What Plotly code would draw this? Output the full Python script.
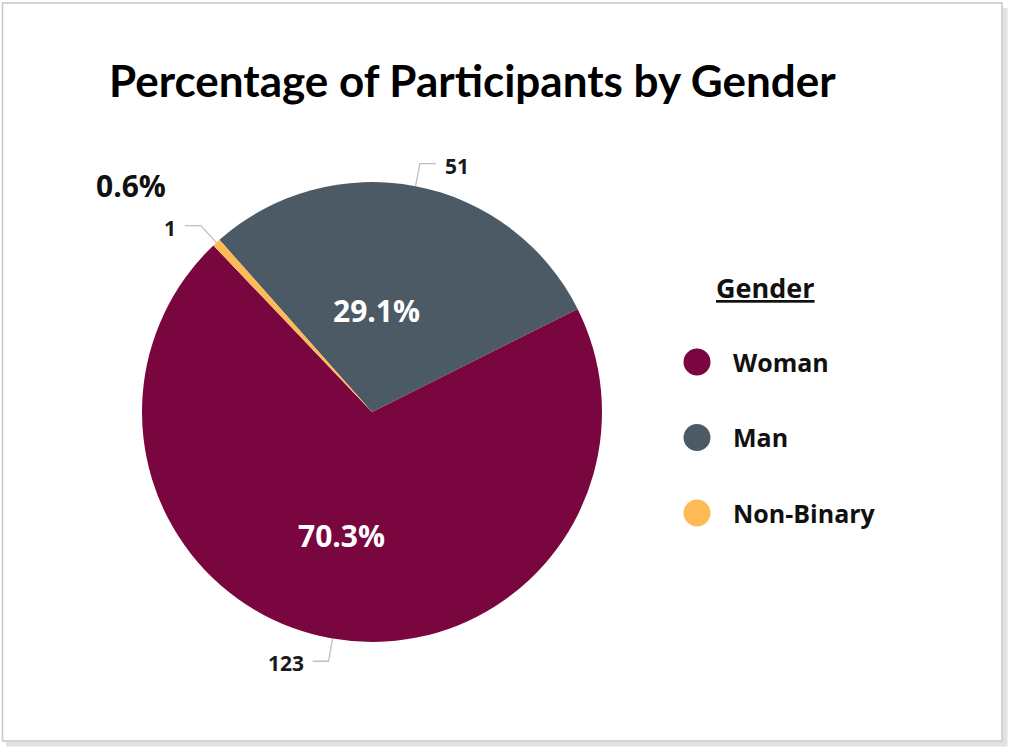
import math
import plotly.graph_objects as go

# ---- data ----
genders = ["Woman", "Man", "Non-Binary"]
counts = [123, 51, 1]
percent_labels = ["70.3%", "29.1%", "0.6%"]
colors = ["#7A063F", "#4C5A66", "#FDBA55"]
title_text = "Percentage of Participants by Gender"
legend_title = "Gender"

W, H = 1013, 751
CX, CY, R = 372, 412, 230          # pie centre / radius in pixels
START = 316.4                      # start angle of first slice (deg, clockwise from 12 o'clock)


def px(x):
    return x / W


def py(y):
    return 1 - y / H


total = sum(counts)
mids = []
acc = 0
for c in counts:
    a0 = START - 360 * acc / total
    acc += c
    a1 = START - 360 * acc / total
    mids.append((a0 + a1) / 2)


def polar(ang, r):
    a = math.radians(ang)
    return CX + r * math.sin(a), CY - r * math.cos(a)


# plotly (counterclockwise): first slice spans [rotation, rotation + its angle] clockwise
rotation = START - 360 * counts[0] / total

fig = go.Figure()
fig.add_trace(go.Pie(
    labels=genders, values=counts, sort=False, direction="counterclockwise",
    rotation=rotation, marker=dict(colors=colors, line=dict(width=0)),
    textinfo="none", hoverinfo="label+value+percent", showlegend=False,
    domain=dict(x=[px(CX - R), px(CX + R)], y=[py(CY + R), py(CY - R)]),
))

annotations = []
shapes = []


def ann(x, y, text, size, color, xanchor="center", family="Open Sans"):
    annotations.append(dict(x=px(x), y=py(y), xref="paper", yref="paper",
                            text=text, showarrow=False, xanchor=xanchor, yanchor="middle",
                            font=dict(family=family, size=size, color=color)))


# percentage labels: (radius, angular offset) per slice
pct_cfg = [(127, 3.8, "white"), (102, -8.2, "white"), (331, -4.2, "#111111")]
for i, (rr, dang, col) in enumerate(pct_cfg):
    x, y = polar(mids[i] + dang, rr)
    ann(x, y, f"<b>{percent_labels[i]}</b>", 30, col)

# count labels with leader lines
for i, c in enumerate(counts):
    ex, ey = polar(mids[i], R)
    kx, ky = polar(mids[i], R + 23)
    side = 1 if math.sin(math.radians(mids[i])) > 0 else -1
    hx = kx + side * 16
    shapes.append(dict(type="path", xref="paper", yref="paper",
                       path=f"M {px(ex)},{py(ey)} L {px(kx)},{py(ky)} L {px(hx)},{py(ky)}",
                       line=dict(color="#BFBFBF", width=1.3)))
    ann(hx + side * 7, ky + 2, f"<b>{c}</b>", 21, "#1A1A1A",
        xanchor="left" if side > 0 else "right")

# title
ann(472, 80, f"<b>{title_text}</b>", 44, "#000000", family="Lato")

# manual legend
ann(765, 287, f"<b><u>{legend_title}</u></b>", 27, "#111111")
for i, g in enumerate(genders):
    ly = 362 + i * 75.5
    shapes.append(dict(type="circle", xref="paper", yref="paper",
                       x0=px(697 - 13.5), x1=px(697 + 13.5),
                       y0=py(ly + 13.5), y1=py(ly - 13.5),
                       fillcolor=colors[i], line=dict(width=0)))
    ann(731, ly, f"<b>{g}</b>", 25, "#111111", xanchor="left")

# frame with soft shadow
shapes.append(dict(type="line", xref="paper", yref="paper", x0=px(6), x1=px(1007),
                   y0=py(744), y1=py(744), line=dict(color="#E2E2E2", width=5)))
shapes.append(dict(type="line", xref="paper", yref="paper", x0=px(1005), x1=px(1005),
                   y0=py(8), y1=py(746), line=dict(color="#E2E2E2", width=5)))
shapes.append(dict(type="rect", xref="paper", yref="paper", x0=px(2.5), x1=px(1002),
                   y0=py(741), y1=py(3), line=dict(color="#C8C8C8", width=1.5)))

fig.update_layout(
    width=W, height=H, margin=dict(l=0, r=0, t=0, b=0),
    paper_bgcolor="white", plot_bgcolor="white",
    annotations=annotations, shapes=shapes, showlegend=False,
)

fig.write_html("out.html")
